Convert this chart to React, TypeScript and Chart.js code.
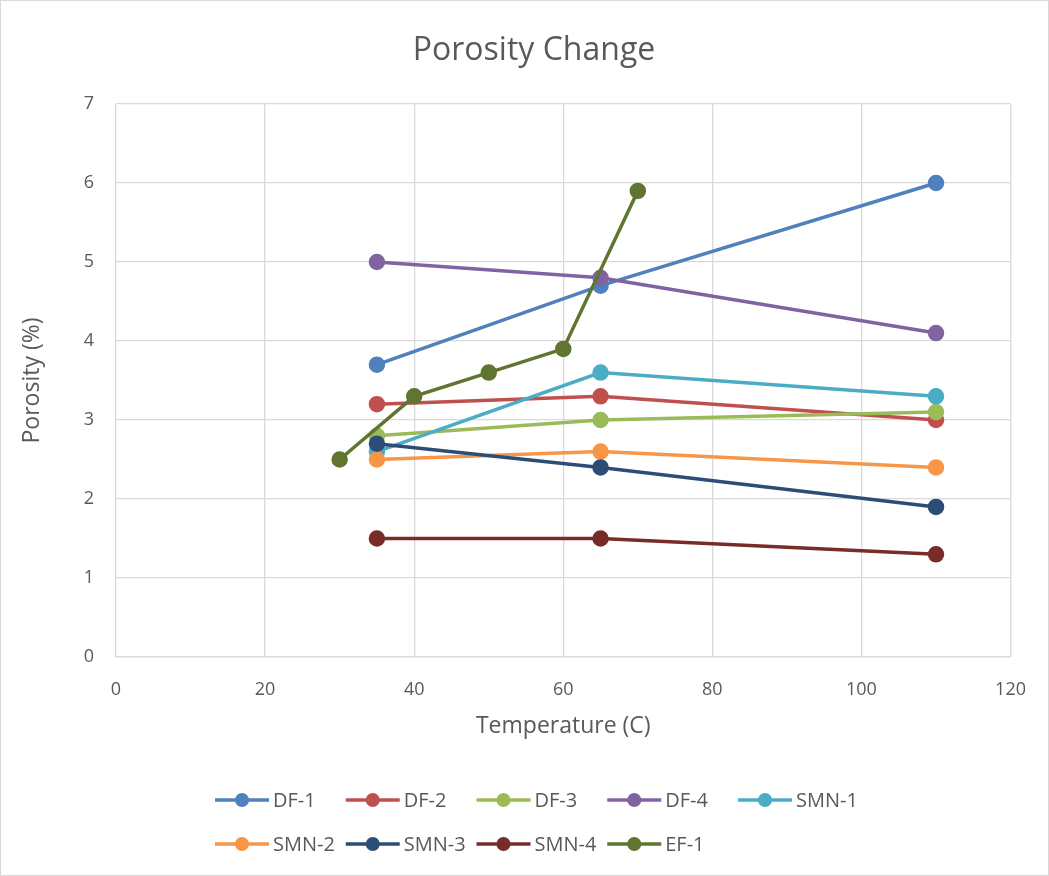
import React, { useEffect, useRef } from "react";
import { Chart, registerables } from "chart.js";

Chart.register(...registerables);

const seriesNames = ["DF-1", "DF-2", "DF-3", "DF-4", "SMN-1", "SMN-2", "SMN-3", "SMN-4", "EF-1"];
const seriesColors = ["#4f81bd", "#c0504d", "#9bbb59", "#8064a2", "#4bacc6", "#f79646", "#2c4d75", "#772c2a", "#5f7530"];

const tempsMain = [35, 65, 110];
const df1 = [3.7, 4.7, 6.0];
const df2 = [3.2, 3.3, 3.0];
const df3 = [2.8, 3.0, 3.1];
const df4 = [5.0, 4.8, 4.1];
const smn1 = [2.6, 3.6, 3.3];
const smn2 = [2.5, 2.6, 2.4];
const smn3 = [2.7, 2.4, 1.9];
const smn4 = [1.5, 1.5, 1.3];
const tempsEF = [30, 40, 50, 60, 70];
const ef1 = [2.5, 3.3, 3.6, 3.9, 5.9];

const seriesX = [tempsMain, tempsMain, tempsMain, tempsMain, tempsMain, tempsMain, tempsMain, tempsMain, tempsEF];
const seriesY = [df1, df2, df3, df4, smn1, smn2, smn3, smn4, ef1];

const chartTitle = "Porosity Change";

const FONT = "'Open Sans', 'Noto Sans', sans-serif";
const TEXT = "#595959";

const titleLegendPlugin = {
  id: "titleLegend",
  afterDraw(chart: any) {
    const ctx = chart.ctx;
    ctx.save();
    ctx.fillStyle = TEXT;
    ctx.font = `32px ${FONT}`;
    ctx.textAlign = "center";
    ctx.textBaseline = "middle";
    ctx.fillText(chartTitle, 533, 50);

    const cols = 5;
    const x0 = 214;
    const colW = 130.75;
    const rowY = [799, 843];
    seriesNames.forEach((name, i) => {
      const r = Math.floor(i / cols);
      const c = i % cols;
      const x = x0 + c * colW;
      const y = rowY[r];
      const col = seriesColors[i];
      ctx.strokeStyle = col;
      ctx.lineWidth = 3.5;
      ctx.beginPath();
      ctx.moveTo(x, y);
      ctx.lineTo(x + 54, y);
      ctx.stroke();
      ctx.fillStyle = col;
      ctx.beginPath();
      ctx.arc(x + 27, y, 7, 0, Math.PI * 2);
      ctx.fill();
      ctx.fillStyle = TEXT;
      ctx.font = `20px ${FONT}`;
      ctx.textAlign = "left";
      ctx.textBaseline = "middle";
      ctx.fillText(name, x + 58, y + 1);
    });
    ctx.restore();
  },
};

export default function App() {
  const ref = useRef<HTMLCanvasElement>(null);
  useEffect(() => {
    const datasets = seriesNames.map((name, i) => ({
      label: name,
      data: seriesX[i].map((x, j) => ({ x, y: seriesY[i][j] })),
      borderColor: seriesColors[i],
      backgroundColor: seriesColors[i],
      pointBackgroundColor: seriesColors[i],
      pointBorderColor: seriesColors[i],
      borderWidth: 3.5,
      pointRadius: 6.5,
      pointHoverRadius: 6.5,
      tension: 0,
      order: seriesNames.length - i,
    }));
    const chart = new Chart(ref.current!, {
      type: "line",
      data: { datasets },
      options: {
        animation: false,
        responsive: false,
        layout: { padding: { left: 10, right: 36, top: 103, bottom: 131 } },
        plugins: {
          legend: { display: false },
          tooltip: { enabled: false },
          title: { display: false },
        },
        scales: {
          x: {
            type: "linear",
            min: 0,
            max: 120,
            afterFit: (s: any) => { s.height = 87; },
            ticks: { stepSize: 20, color: TEXT, font: { family: FONT, size: 18 }, padding: 22 },
            grid: { color: "#d9d9d9", lineWidth: 1.3, drawTicks: false },
            border: { color: "#d9d9d9", width: 1.3 },
            title: {
              display: true,
              text: "Temperature (C)",
              color: TEXT,
              font: { family: FONT, size: 23 },
              padding: { top: 14 },
            },
          },
          y: {
            min: 0,
            max: 7,
            afterFit: (s: any) => { s.width = 105; },
            ticks: { stepSize: 1, color: TEXT, font: { family: FONT, size: 18 }, padding: 22 },
            grid: { color: "#d9d9d9", lineWidth: 1.3, drawTicks: false },
            border: { display: false },
            title: {
              display: true,
              text: "Porosity (%)",
              color: TEXT,
              font: { family: FONT, size: 23 },
              padding: { top: 8, bottom: 8 },
            },
          },
        },
      },
      plugins: [titleLegendPlugin],
    });
    return () => chart.destroy();
  }, []);
  return (
    <div style={{ position: "absolute", left: 0, top: 0, width: 1049, height: 876, background: "#fff", boxSizing: "border-box", border: "1px solid #d9d9d9" }}>
      <canvas ref={ref} width={1047} height={874} style={{ display: "block" }} />
    </div>
  );
}
